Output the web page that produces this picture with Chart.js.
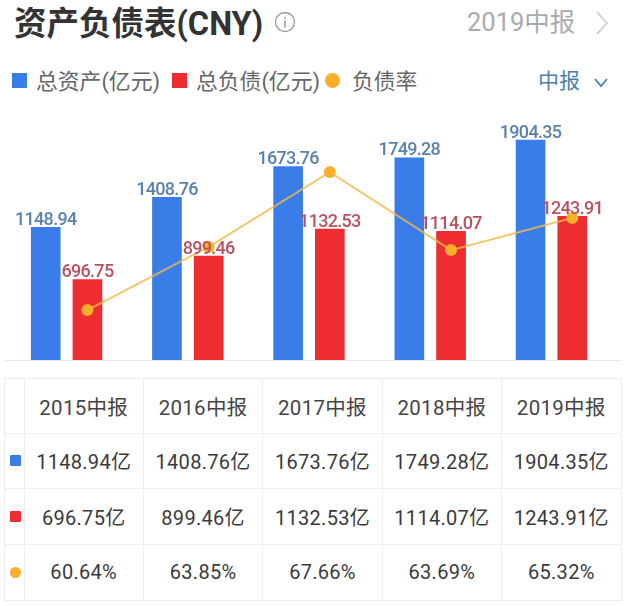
<!DOCTYPE html>
<html lang="zh">
<head>
<meta charset="utf-8">
<title>资产负债表</title>
<script src="https://cdn.jsdelivr.net/npm/chart.js"></script>
<style>
html, body { margin: 0; padding: 0; background: #fff; }
body { width: 640px; height: 606px; position: relative; overflow: hidden; font-family: Roboto, "Noto Sans CJK SC", sans-serif; }
.abs { position: absolute; white-space: nowrap; line-height: 1; }
#title { left: 14px; top: 8px; font-size: 32.5px; font-weight: 700; color: #333; }
#period { left: 467px; top: 10px; font-size: 25.5px; color: #ababab; }
.legend_item { font-size: 21.8px; color: #666; top: 71px; }
.swatch { position: absolute; }
#report { left: 538px; top: 71px; font-size: 21px; color: #4a80ac; }
#chart_box { position: absolute; left: 0; top: 0; width: 640px; height: 370px; }
#data_table { position: absolute; left: 3.5px; top: 378px; width: 618px; border-collapse: collapse; table-layout: fixed; }
#data_table td { border: 1px solid #eeeeee; text-align: center; font-size: 20px; color: #3a3a3a; padding: 0; letter-spacing: .3px; height: 54px; box-sizing: border-box; }
#data_table tr:first-child td { font-size: 20.5px; color: #444; }
#data_table td:first-child { width: 20px; position: relative; }
</style>
</head>
<body>
<div class="abs" id="title">资产负债表(CNY)</div>
<svg class="abs" style="left:274px;top:11px" width="22" height="22">
  <circle cx="11" cy="11" r="9.5" fill="none" stroke="#999" stroke-width="1.3"/>
  <rect x="10.2" y="9.5" width="1.6" height="7" fill="#999"/>
  <rect x="10.2" y="6" width="1.6" height="1.8" fill="#999"/>
</svg>
<div class="abs" id="period">2019中报</div>
<svg class="abs" style="left:594px;top:9px" width="16" height="28">
  <path d="M3 3 L13 14 L3 25" fill="none" stroke="#d4d4d4" stroke-width="2"/>
</svg>
<div id="legend_row"></div>
<div class="abs" id="report">中报</div>
<svg class="abs" style="left:593px;top:77px" width="16" height="12">
  <path d="M2 2 L8 9 L14 2" fill="none" stroke="#4a80ac" stroke-width="1.8"/>
</svg>
<div id="chart_box"><canvas id="balance_chart" width="640" height="370"></canvas></div>
<table id="data_table"></table>

<script>
// values
const categories = ['2015中报', '2016中报', '2017中报', '2018中报', '2019中报'];
const total_assets = [1148.94, 1408.76, 1673.76, 1749.28, 1904.35];
const total_debt = [696.75, 899.46, 1132.53, 1114.07, 1243.91];
const debt_ratio = [60.64, 63.85, 67.66, 63.69, 65.32];
const series_names = ['总资产(亿元)', '总负债(亿元)', '负债率'];

const blue = '#3b7de8';
const red = '#ee2d33';
const orange = '#f9ae2c';

// legend on top
const legend_row = document.getElementById('legend_row');
const legend_swatch_x = [12, 172, 325];
const legend_text_x = [36, 196, 352];
const legend_colors = [blue, red, orange];
series_names.forEach(function (name, i) {
    let swatch = document.createElement('div');
    swatch.className = 'swatch';
    swatch.style.cssText = 'left:' + legend_swatch_x[i] + 'px;top:73px;width:15px;height:15px;background:' + legend_colors[i] + ';' + (i === 2 ? 'border-radius:50%;' : '');
    legend_row.appendChild(swatch);
    let text = document.createElement('div');
    text.className = 'abs legend_item';
    text.style.left = legend_text_x[i] + 'px';
    text.textContent = name;
    legend_row.appendChild(text);
});

// table under the chart
const data_table = document.getElementById('data_table');
const row_heights = [54.5, 55, 56, 56];
function add_row(marker_color, round, cells) {
    let row = data_table.insertRow();
    row.style.height = row_heights[row.rowIndex] + 'px';
    let first = row.insertCell();
    if (marker_color) {
        let dot = document.createElement('div');
        dot.style.cssText = 'position:absolute;left:5px;top:50%;margin-top:-5.5px;width:11px;height:11px;background:' + marker_color + ';' + (round ? 'border-radius:50%;' : 'border-radius:1px;');
        first.appendChild(dot);
    }
    cells.forEach(function (c) {
        row.insertCell().textContent = c;
    });
}
add_row(null, false, categories);
add_row(blue, false, total_assets.map(v => v.toFixed(2) + '亿'));
add_row(red, false, total_debt.map(v => v.toFixed(2) + '亿'));
add_row(orange, true, debt_ratio.map(v => v.toFixed(2) + '%'));

// value labels over the bars and the base line
const bar_labels = {
    id: 'bar_labels',
    afterDatasetsDraw(chart) {
        const ctx = chart.ctx;
        ctx.save();
        ctx.strokeStyle = '#e8e8e8';
        ctx.lineWidth = 1;
        ctx.beginPath();
        ctx.moveTo(4, chart.chartArea.bottom + 0.5);
        ctx.lineTo(622, chart.chartArea.bottom + 0.5);
        ctx.stroke();
        ctx.font = '500 18px Roboto';
        ctx.textAlign = 'center';
        ctx.textBaseline = 'bottom';
        ctx.letterSpacing = '-0.7px';
        chart.data.datasets.forEach(function (ds, i) {
            if (ds.type !== 'bar') return;
            ctx.fillStyle = ds.labelColor;
            let meta = chart.getDatasetMeta(i);
            meta.data.forEach(function (bar, j) {
                ctx.fillText(meta.controller.getParsed(j).y.toFixed(2), bar.x, bar.y + 2);
            });
        });
        ctx.restore();
    }
};

// blue bars sit left of the year slot, red bars and line points right of it
const bar_shift = 0.172;

new Chart(document.getElementById('balance_chart').getContext('2d'), {
    data: {
        datasets: [
            {
                type: 'line',
                label: series_names[2],
                data: debt_ratio.map((v, i) => ({ x: i + bar_shift, y: v })),
                yAxisID: 'y2',
                borderColor: 'rgba(240,185,70,0.8)',
                borderWidth: 2,
                pointRadius: 6,
                pointBackgroundColor: orange,
                pointBorderWidth: 0,
                tension: 0,
                order: 0,
            },
            {
                type: 'bar',
                label: series_names[0],
                data: total_assets.map((v, i) => ({ x: i - bar_shift, y: v })),
                backgroundColor: blue,
                labelColor: '#5a82ad',
                order: 1,
            },
            {
                type: 'bar',
                label: series_names[1],
                data: total_debt.map((v, i) => ({ x: i + bar_shift, y: v })),
                backgroundColor: red,
                labelColor: '#b9525e',
                order: 1,
            },
        ],
    },
    options: {
        indexAxis: 'x',
        responsive: false,
        animation: false,
        datasets: {
            bar: { grouped: false, barThickness: 29 },
        },
        layout: {
            padding: { left: 2, right: 28, top: 130, bottom: 10 },
        },
        scales: {
            x: { type: 'linear', offset: false, display: false, min: -0.5, max: 4.5 },
            y: { display: false, min: 0, max: 1991 },
            y2: { display: false, min: 58.1, max: 69.8 },
        },
        plugins: {
            legend: { display: false },
            tooltip: { enabled: false },
        },
    },
    plugins: [bar_labels],
});
</script>
</body>
</html>
